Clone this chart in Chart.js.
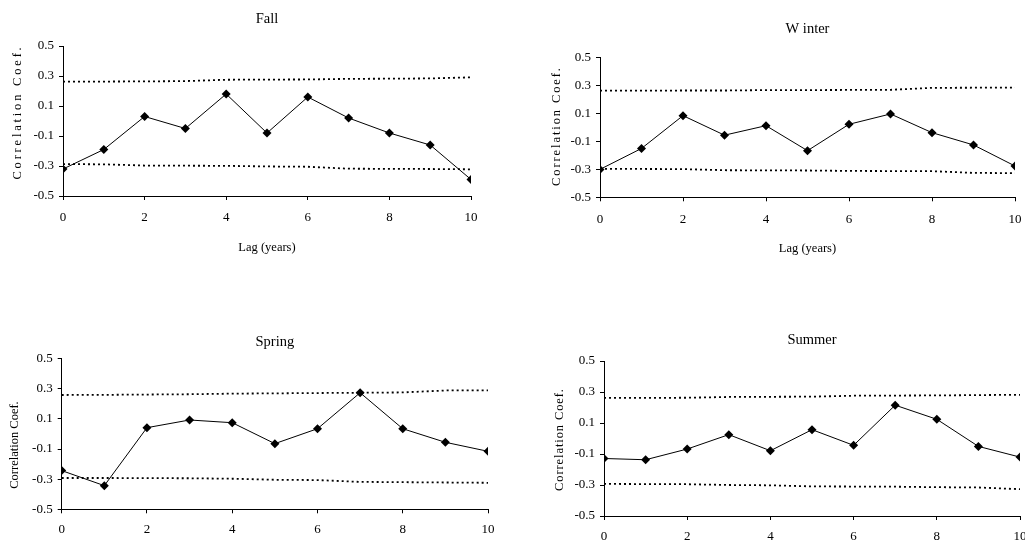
<!DOCTYPE html>
<html>
<head>
<meta charset="utf-8">
<script src="https://cdn.jsdelivr.net/npm/chart.js@4.4.1/dist/chart.umd.min.js"></script>
<style>
  html, body { margin: 0; padding: 0; background: #fff; overflow: hidden; width: 1025px; height: 544px; }
  canvas { position: absolute; }
</style>
</head>
<body>
<canvas id="c_fall" width="491" height="272" style="left:0;top:0"></canvas>
<canvas id="c_winter" width="523" height="272" style="left:512px;top:0"></canvas>
<canvas id="c_spring" width="508" height="272" style="left:0;top:272px"></canvas>
<canvas id="c_summer" width="528" height="272" style="left:512px;top:272px"></canvas>
<script>
(function(){
  'use strict';

  // lag in years
  var lags = [0, 1, 2, 3, 4, 5, 6, 7, 8, 9, 10];
  var xTicks = [0, 2, 4, 6, 8, 10];
  var yTicks = [-0.5, -0.3, -0.1, 0.1, 0.3, 0.5];

  var fallCoef   = [-0.32, -0.19, 0.03, -0.05, 0.18, -0.08, 0.16, 0.02, -0.08, -0.16, -0.39];
  var fallUpper  = [0.262, 0.263, 0.264, 0.266, 0.275, 0.276, 0.277, 0.281, 0.282, 0.284, 0.291];
  var fallLower  = [-0.287, -0.289, -0.297, -0.298, -0.299, -0.303, -0.305, -0.318, -0.319, -0.320, -0.322];

  var winterCoef  = [-0.30, -0.15, 0.085, -0.055, 0.013, -0.166, 0.023, 0.097, -0.037, -0.125, -0.276];
  var winterUpper = [0.264, 0.264, 0.265, 0.265, 0.268, 0.268, 0.269, 0.270, 0.284, 0.285, 0.286];
  var winterLower = [-0.297, -0.297, -0.298, -0.306, -0.307, -0.308, -0.311, -0.312, -0.313, -0.325, -0.327];

  var springCoef  = [-0.243, -0.343, 0.042, 0.093, 0.075, -0.064, 0.035, 0.274, 0.035, -0.055, -0.115];
  var springUpper = [0.259, 0.260, 0.262, 0.264, 0.268, 0.270, 0.272, 0.274, 0.276, 0.289, 0.290];
  var springLower = [-0.292, -0.292, -0.293, -0.294, -0.297, -0.304, -0.306, -0.318, -0.320, -0.322, -0.324];

  var summerCoef  = [-0.129, -0.137, -0.068, 0.025, -0.079, 0.057, -0.044, 0.215, 0.124, -0.051, -0.12];
  var summerUpper = [0.262, 0.262, 0.263, 0.268, 0.269, 0.270, 0.276, 0.277, 0.278, 0.280, 0.282];
  var summerLower = [-0.293, -0.294, -0.295, -0.300, -0.302, -0.309, -0.310, -0.311, -0.314, -0.316, -0.327];

  var serif = '"Liberation Serif", "Times New Roman", serif';
  Chart.defaults.color = '#000';
  Chart.defaults.font.family = serif;

  function pts(ys) {
    return lags.map(function(x, i){ return {x: x, y: ys[i]}; });
  }

  // rotated y title with letter spacing
  var yTitlePlugin = {
    id: 'yTitle',
    afterDraw: function(chart, args, opts) {
      var ctx = chart.ctx;
      ctx.save();
      ctx.translate(opts.x, opts.y);
      ctx.rotate(-Math.PI / 2);
      ctx.font = '12.5px ' + serif;
      ctx.fillStyle = '#000';
      if ('letterSpacing' in ctx) ctx.letterSpacing = opts.spacing + 'px';
      ctx.textAlign = 'center';
      ctx.textBaseline = 'middle';
      ctx.fillText(opts.text, 0, 0);
      ctx.restore();
    }
  };

  function makeChart(id, title, coef, upper, lower, g) {
    var ctx = document.getElementById(id).getContext('2d');
    var bound = {
      borderColor: '#000', borderWidth: 1.8, borderDash: [2, 3],
      pointRadius: 0, fill: false, tension: 0
    };
    var xTitle = g.xTitle ? {
      display: true, text: 'Lag (years)', font: {size: 12.5},
      padding: {top: 0, bottom: g.xTitlePad}
    } : {display: false};

    return new Chart(ctx, {
      type: 'line',
      data: {
        datasets: [
          Object.assign({label: 'upper', data: pts(upper)}, bound),
          Object.assign({label: 'lower', data: pts(lower)}, bound),
          {
            label: title, data: pts(coef),
            borderColor: '#000', borderWidth: 1, tension: 0,
            pointStyle: 'rectRot', pointRadius: 4.5, pointHoverRadius: 4.5,
            pointBackgroundColor: '#000', pointBorderColor: '#000', pointBorderWidth: 0
          }
        ]
      },
      options: {
        responsive: false,
        animation: false,
        events: [],
        layout: {padding: {left: 0, top: 0, right: g.padRight, bottom: 0}},
        plugins: {
          legend: {display: false},
          tooltip: {enabled: false},
          title: {
            display: true, text: title, fullSize: false,
            font: {size: 14.5, weight: 'normal'}, color: '#000',
            padding: {top: g.titleTop, bottom: g.titleBottom}
          },
          yTitle: {text: 'Correlation Coef.', x: g.yTitleX, y: g.yTitleY, spacing: g.spacing}
        },
        scales: {
          x: {
            type: 'linear', min: 0, max: 10,
            afterBuildTicks: function(s){ s.ticks = xTicks.map(function(v){ return {value: v}; }); },
            ticks: {font: {size: 13}, padding: g.xTickPad, maxRotation: 0, autoSkip: false},
            grid: {drawOnChartArea: false, drawTicks: true, tickLength: 4, color: '#000'},
            border: {display: true, color: '#000', width: 1},
            title: xTitle,
            afterFit: function(s){ s.height = g.xAxisH; s.paddingLeft = 0; s.paddingRight = 0; }
          },
          y: {
            min: -0.5, max: 0.5,
            afterBuildTicks: function(s){ s.ticks = yTicks.map(function(v){ return {value: v}; }); },
            ticks: {
              font: {size: 13}, padding: 5, autoSkip: false,
              callback: function(v){ return v.toFixed(1); }
            },
            grid: {drawOnChartArea: false, drawTicks: true, tickLength: 4, color: '#000'},
            border: {display: true, color: '#000', width: 1},
            afterFit: function(s){ s.width = g.yAxisW; s.paddingTop = 0; s.paddingBottom = 0; }
          }
        }
      },
      plugins: [yTitlePlugin]
    });
  }

  makeChart('c_fall', 'Fall', fallCoef, fallUpper, fallLower, {
    padRight: 20, yAxisW: 63, xAxisH: 76, titleTop: 10.3, titleBottom: 18.3,
    xTickPad: 9.5, xTitle: true, xTitlePad: 16.5, yTitleX: 18, yTitleY: 112, spacing: 2.8
  });
  makeChart('c_winter', 'W inter', winterCoef, winterUpper, winterLower, {
    padRight: 20, yAxisW: 88, xAxisH: 74.7, titleTop: 20.3, titleBottom: 20,
    xTickPad: 10.5, xTitle: true, xTitlePad: 15.5, yTitleX: 45, yTitleY: 126, spacing: 1.9
  });
  makeChart('c_spring', 'Spring', springCoef, springUpper, springLower, {
    padRight: 20, yAxisW: 61.7, xAxisH: 34.7, titleTop: 61.3, titleBottom: 8,
    xTickPad: 8.5, xTitle: false, yTitleX: 15, yTitleY: 173, spacing: 0
  });
  makeChart('c_summer', 'Summer', summerCoef, summerUpper, summerLower, {
    padRight: 20, yAxisW: 92, xAxisH: 28, titleTop: 59.3, titleBottom: 12.3,
    xTickPad: 8.5, xTitle: false, yTitleX: 48, yTitleY: 167.5, spacing: 0.9
  });
})();
</script>
</body>
</html>
